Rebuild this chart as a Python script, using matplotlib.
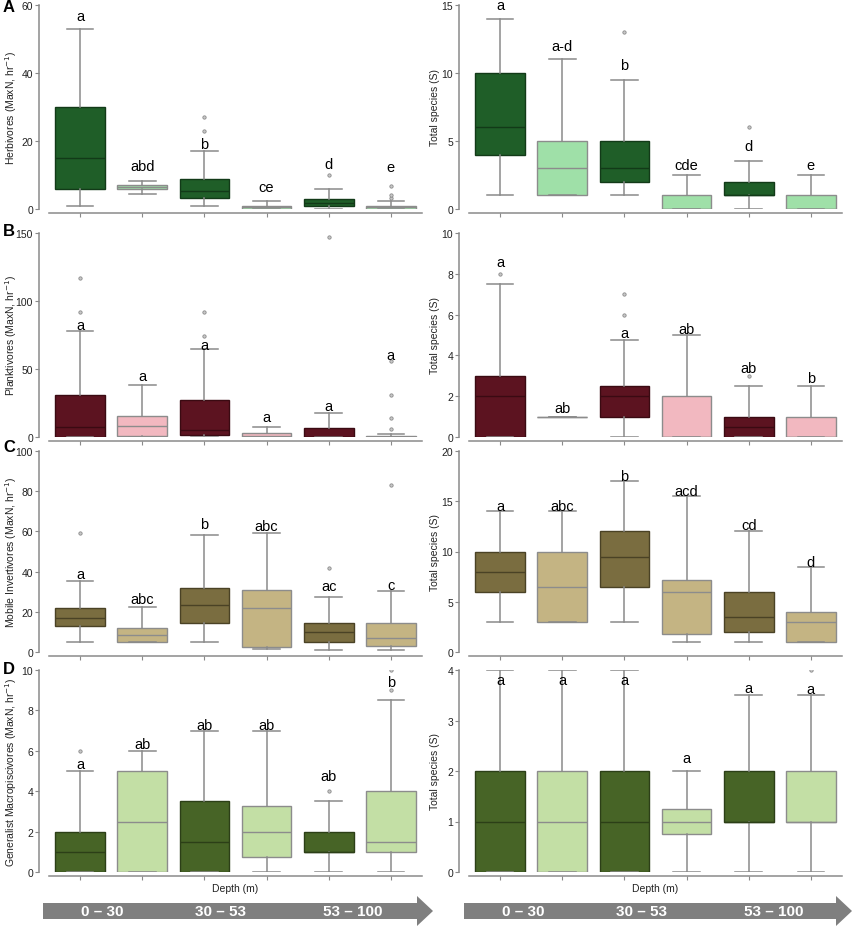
import matplotlib
matplotlib.use("Agg")
import matplotlib.pyplot as plt
from matplotlib.patches import Polygon

plt.rcParams['font.family'] = ['Liberation Sans', 'DejaVu Sans']

groups = [1, 2, 3, 4, 5, 6]

# ---- A: herbivores ----
herb_lo = [1, 4.5, 1, 0, 0, 0]
herb_q1 = [6, 5.8, 3.3, 0, 1, 0]
herb_med = [15, 6.4, 5.4, 0.5, 1.9, 0.5]
herb_q3 = [30, 7, 8.8, 1, 2.8, 1]
herb_hi = [53, 8.3, 17.2, 2.5, 6, 2.5]
herb_fl = [[], [], [23, 27], [], [10], [3.3, 4, 6.9]]
herb_let = ['a', 'abd', 'b', 'ce', 'd', 'e']
herb_let_y = [56.7, 12.6, 19, 6.5, 13.1, 12.5]

herbS_lo = [1, 1, 1, 0, 0, 0]
herbS_q1 = [4, 1, 2, 0, 1, 0]
herbS_med = [6, 3, 3, 0, 1, 0]
herbS_q3 = [10, 5, 5, 1, 2, 1]
herbS_hi = [14, 11, 9.5, 2.5, 3.5, 2.5]
herbS_fl = [[], [], [13], [], [6], []]
herbS_let = ['a', 'a-d', 'b', 'cde', 'd', 'e']
herbS_let_y = [15.0, 12, 10.6, 3.2, 4.6, 3.2]

# ---- B: planktivores ----
plank_lo = [0, 0, 0, 0, 0, 0]
plank_q1 = [0, 0.7, 1.7, 0, 0, 0]
plank_med = [7.7, 8.2, 5.4, 0.5, 0, 0]
plank_q3 = [30.7, 15.6, 27, 2.7, 6.7, 0.7]
plank_hi = [78, 38.4, 65, 7.2, 17.3, 2.2]
plank_fl = [[92, 117], [], [74.5, 91.6], [], [147], [5.7, 14, 31, 55.7]]
plank_let = ['a', 'a', 'a', 'a', 'a', 'a']
plank_let_y = [82.7, 44.5, 68, 14.8, 23, 60.6]

plankS_lo = [0, 1, 0, 0, 0, 0]
plankS_q1 = [0, 1, 1, 0, 0, 0]
plankS_med = [2, 1, 2, 0, 0.5, 0]
plankS_q3 = [3, 1, 2.5, 2, 1, 1]
plankS_hi = [7.5, 1, 4.75, 5, 2.5, 2.5]
plankS_fl = [[8], [], [6, 7], [], [3], []]
plankS_let = ['a', 'ab', 'a', 'ab', 'ab', 'b']
plankS_let_y = [8.6, 1.4, 5.1, 5.3, 3.4, 2.9]

# ---- C: mobile invertivores ----
inv_lo = [5, 5, 5, 1.7, 1, 1]
inv_q1 = [12.9, 5.1, 14.5, 2.5, 5, 2.8]
inv_med = [16.9, 8.6, 23.6, 22, 9.9, 7]
inv_q3 = [21.8, 11.7, 31.7, 31, 14.2, 14.2]
inv_hi = [35.5, 22.3, 58.3, 59.2, 27.4, 30.4]
inv_fl = [[59], [], [], [], [42], [83]]
inv_let = ['a', 'abc', 'b', 'abc', 'ac', 'c']
inv_let_y = [38.7, 26.4, 63.5, 62.5, 32.9, 33.4]

invS_lo = [3, 3, 3, 1, 1, 1]
invS_q1 = [6, 3, 6.5, 1.75, 2, 1]
invS_med = [8, 6.5, 9.5, 6, 3.5, 3]
invS_q3 = [10, 10, 12, 7.2, 6, 4]
invS_hi = [14, 14, 17, 15.5, 12, 8.5]
invS_fl = [[], [], [], [], [], []]
invS_let = ['a', 'abc', 'b', 'acd', 'cd', 'd']
invS_let_y = [14.5, 14.5, 17.5, 16, 12.6, 9]

# ---- D: generalist macropiscivores ----
mac_lo = [0, 0, 0, 0, 0, 0]
mac_q1 = [0, 0, 0, 0.75, 1, 1]
mac_med = [1, 2.5, 1.5, 2, 1, 1.5]
mac_q3 = [2, 5, 3.5, 3.25, 2, 4]
mac_hi = [5, 6, 7, 7, 3.5, 8.5]
mac_fl = [[6], [], [], [], [4], [9, 10]]
mac_let = ['a', 'ab', 'ab', 'ab', 'ab', 'b']
mac_let_y = [5.35, 6.35, 7.3, 7.3, 4.75, 9.4]

macS_lo = [0, 0, 0, 0, 0, 0]
macS_q1 = [0, 0, 0, 0.75, 1, 1]
macS_med = [1, 1, 1, 1, 1, 1]
macS_q3 = [2, 2, 2, 1.25, 2, 2]
macS_hi = [4, 4, 4, 2, 3.5, 3.5]
macS_fl = [[], [], [], [], [], [4]]
macS_let = ['a', 'a', 'a', 'a', 'a', 'a']
macS_let_y = [3.8, 3.8, 3.8, 2.26, 3.65, 3.63]

depth_bins = ['0 \u2013 30', '30 \u2013 53', '53 \u2013 100']

row_colors = [('#1f5e28', '#9fe0a8'), ('#5c1320', '#f2b8c0'),
              ('#7a6d40', '#c4b483'), ('#476426', '#c3dfa5')]
row_edges = ['#123a18', '#3a0a12', '#4a4225', '#2c3f17']
ylabels = ['Herbivores (MaxN, hr$^{-1}$)', 'Planktivores (MaxN, hr$^{-1}$)',
           'Mobile Invertivores (MaxN, hr$^{-1}$)',
           'Generalist Macropiscivores (MaxN, hr$^{-1}$)']
ylims = [(60, 15), (150, 10), (100, 20), (10, 4)]
ysteps = [(20, 5), (50, 2), (20, 5), (2, 1)]

panels = [
    [(herb_lo, herb_q1, herb_med, herb_q3, herb_hi, herb_fl, herb_let, herb_let_y),
     (herbS_lo, herbS_q1, herbS_med, herbS_q3, herbS_hi, herbS_fl, herbS_let, herbS_let_y)],
    [(plank_lo, plank_q1, plank_med, plank_q3, plank_hi, plank_fl, plank_let, plank_let_y),
     (plankS_lo, plankS_q1, plankS_med, plankS_q3, plankS_hi, plankS_fl, plankS_let, plankS_let_y)],
    [(inv_lo, inv_q1, inv_med, inv_q3, inv_hi, inv_fl, inv_let, inv_let_y),
     (invS_lo, invS_q1, invS_med, invS_q3, invS_hi, invS_fl, invS_let, invS_let_y)],
    [(mac_lo, mac_q1, mac_med, mac_q3, mac_hi, mac_fl, mac_let, mac_let_y),
     (macS_lo, macS_q1, macS_med, macS_q3, macS_hi, macS_fl, macS_let, macS_let_y)],
]

W, H = 854, 929
fig = plt.figure(figsize=(W / 100, H / 100), dpi=100)

# pixel layout (bottom, height) per row
rows_px = [(210, 204), (438, 204), (653, 201), (873, 202)]
cols_px = [49, 469]
ax_w = 373
gray = '#8a8a8a'

for r in range(4):
    for c in range(2):
        lo, q1, med, q3, hi, fl, let, let_y = panels[r][c]
        yb, hh = rows_px[r]
        ax = fig.add_axes([cols_px[c] / W, 1 - yb / H, ax_w / W, hh / H])
        stats = []
        for i in range(6):
            stats.append(dict(whislo=lo[i], q1=q1[i], med=med[i], q3=q3[i],
                              whishi=hi[i], fliers=fl[i]))
        dark, light = row_colors[r]
        bp = ax.bxp(stats, positions=groups, widths=0.8, capwidths=0.43,
                    patch_artist=True, manage_ticks=False,
                    whiskerprops=dict(color=gray, lw=1.1),
                    capprops=dict(color=gray, lw=1.1),
                    flierprops=dict(marker='o', ms=2.4, mfc='#c8c8c8',
                                    mec='#8a8a8a', mew=0.6, ls='none'))
        for i, box in enumerate(bp['boxes']):
            if i % 2 == 0:
                box.set_facecolor(dark)
                box.set_edgecolor(row_edges[r])
                bp['medians'][i].set_color(row_edges[r])
            else:
                box.set_facecolor(light)
                box.set_edgecolor('#8c8c8c')
                bp['medians'][i].set_color('#8c8c8c')
            box.set_linewidth(1.0)
            bp['medians'][i].set_linewidth(1.0)
        for i in range(6):
            ax.text(groups[i], let_y[i], let[i], ha='center', va='center',
                    fontsize=10.5, color='black', clip_on=False)

        ymax = ylims[r][c]
        ax.set_xlim(0.5, 6.5)
        ax.set_ylim(0, ymax)
        step = ysteps[r][c]
        ax.set_yticks([step * k for k in range(int(round(ymax / step)) + 1)])
        ax.set_xticks(groups)
        ax.set_xticklabels([])
        for s in ['top', 'right']:
            ax.spines[s].set_visible(False)
        ax.spines['left'].set_position(('outward', 7))
        ax.spines['bottom'].set_position(('outward', 3))
        for s in ['left', 'bottom']:
            ax.spines[s].set_color(gray)
            ax.spines[s].set_linewidth(1.1)
        ax.tick_params(direction='out', length=3, width=0.8, color=gray,
                       labelsize=7.5, labelcolor='#222222', pad=1.5)
        ax.set_ylabel(ylabels[r] if c == 0 else 'Total species (S)',
                      fontsize=7.5, color='#222222', va='center')
        lab_x = 11 if c == 0 else 435
        ax.yaxis.set_label_coords((lab_x - cols_px[c]) / ax_w, 0.5)
        ax.patch.set_alpha(0)
        if r == 3:
            ax.text(0.5, -(889 - 873) / hh, 'Depth (m)', transform=ax.transAxes,
                    ha='center', va='center', fontsize=7.5, color='#222222')

for lab, ypx in zip(['A', 'B', 'C', 'D'], [8, 232, 448, 669]):
    fig.text(9 / W, 1 - ypx / H, lab, fontsize=12, fontweight='bold',
             ha='center', va='center')

# depth arrows along the bottom
ov = fig.add_axes([0, 0, 1, 1])
ov.set_xlim(0, W)
ov.set_ylim(H, 0)
ov.axis('off')
for x0, xb, tip in [(43, 417, 433), (464, 836, 852)]:
    pts = [(x0, 904), (xb, 904), (xb, 897), (tip, 912), (xb, 927), (xb, 920), (x0, 920)]
    ov.add_patch(Polygon(pts, closed=True, facecolor='#7f7f7f', edgecolor='none'))
    for k, xt in enumerate([x0 + 59, x0 + 178, x0 + 310]):
        ov.text(xt, 912, depth_bins[k], color='white', fontsize=11, fontweight='bold',
                ha='center', va='center',
                family=['Liberation Sans Narrow', 'Liberation Sans', 'DejaVu Sans'])

fig.savefig('out.png', dpi=100)
